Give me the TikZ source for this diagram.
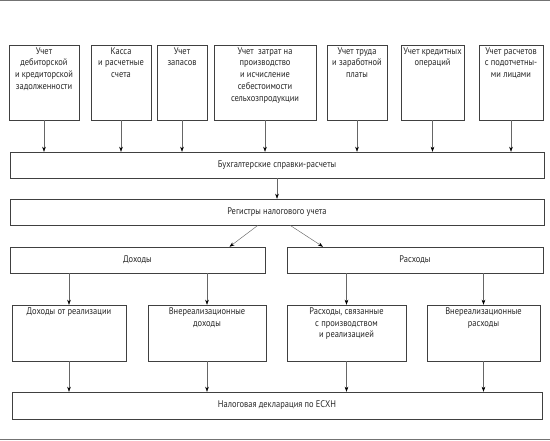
\documentclass[tikz,border=0pt]{standalone}
\usepackage{fontspec}
\setmainfont{PT Sans}[FakeStretch=0.88]
\usetikzlibrary{arrows.meta}
\tikzset{
  boxst/.style={draw=black!75, line width=0.5pt, inner sep=0pt, text=black!85,
    font=\fontsize{9.6pt}{11.7pt}\selectfont},
  arr/.style={draw=black!60, line width=0.45pt, -{Stealth[length=5pt,width=3.6pt,black]}},
  rule/.style={draw=black!55, line width=0.8pt}
}
\newcommand\tbox[6]{%
  \pgfmathsetmacro\bw{#4-#2}\pgfmathsetmacro\bh{#5-#3}%
  \node[boxst] (#1) at ({(#2+#4)/2},{(#3+#5)/2})
    {\parbox[c][\bh pt][t]{\bw pt}{\centering\vspace*{2.5pt}#6\par}};}
\newcommand\cbox[6]{%
  \pgfmathsetmacro\bw{#4-#2}\pgfmathsetmacro\bh{#5-#3}%
  \node[boxst] (#1) at ({(#2+#4)/2},{(#3+#5)/2})
    {\parbox[c][\bh pt][c]{\bw pt}{\centering #6\par}};}
\begin{document}
\begin{tikzpicture}[x=1pt,y=-1pt]
\useasboundingbox (0,0) rectangle (550,440);
\coordinate (tl) at (0,0.6);
\coordinate (tr) at (550,0.6);
\coordinate (bl) at (0,439);
\coordinate (br) at (550,439);
\draw[rule] (tl) -- (tr);
\draw[rule] (bl) -- (br);

\tbox{b1}{9}{45}{79}{120}{Учет\\дебиторской\\и кредиторской\\задолженности}
\tbox{b2}{91}{45}{151}{120}{Касса\\и расчетные\\счета}
\tbox{b3}{157}{45}{207}{120}{Учет\\запасов}
\tbox{b4}{214}{45}{316}{120}{Учет\hspace{2pt} затрат на\\производство\\и исчисление\\себестоимости\\сельхозпродукции}
\tbox{b5}{327}{45}{387}{120}{Учет труда\\и заработной\\платы}
\tbox{b6}{401}{45}{464}{120}{Учет кредитных\\операций}
\tbox{b7}{479}{45}{543}{120}{Учет расчетов\\с подотчетны-\\ми лицами}

\cbox{bus}{10}{152}{544}{178}{Бухгалтерские справки-расчеты}
\cbox{reg}{10}{199}{544}{225}{Регистры налогового учета}
\cbox{doh}{10}{247}{265}{273}{Доходы}
\cbox{ras}{287}{247}{543}{273}{Расходы}

\tbox{ca}{12}{305}{126}{361}{Доходы от реализации}
\tbox{cb}{148}{305}{266}{361}{Внереализационные\\доходы}
\tbox{cc}{287}{305}{406}{361}{Расходы, связанные\\с производством\\и реализацией}
\tbox{cd}{427}{305}{540}{361}{Внереализационные\\расходы}

\cbox{fin}{12}{392}{542}{419}{Налоговая декларация по ЕСХН}

\foreach \b in {b1,b2,b3,b4,b5,b6,b7}
  \draw[arr] (\b.south) -- (\b.south |- bus.north);
\draw[arr] (bus.south) -- (reg.north);
\draw[arr] ([xshift=-19pt]reg.south) -- ([xshift=92pt]doh.north);
\draw[arr] ([xshift=13pt]reg.south) -- ([xshift=-92pt]ras.north);
\draw[arr] (ca.north |- doh.south) -- (ca.north);
\draw[arr] (cb.north |- doh.south) -- (cb.north);
\draw[arr] (cc.north |- ras.south) -- (cc.north);
\draw[arr] (cd.north |- ras.south) -- (cd.north);
\foreach \b in {ca,cb,cc,cd}
  \draw[arr] (\b.south) -- (\b.south |- fin.north);
\end{tikzpicture}
\end{document}
